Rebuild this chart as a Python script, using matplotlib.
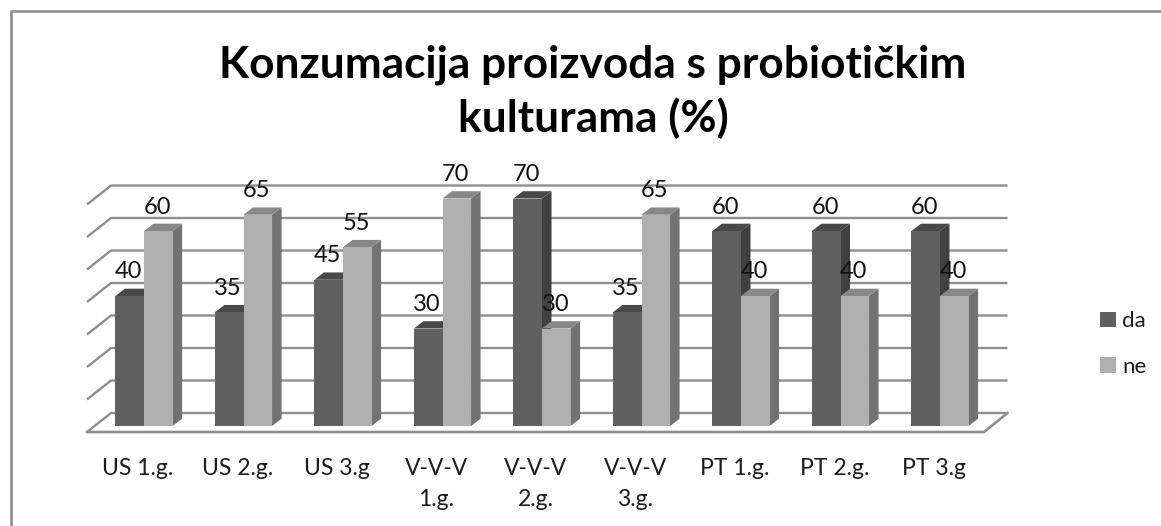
import matplotlib
matplotlib.use("Agg")
import matplotlib.pyplot as plt
from matplotlib.lines import Line2D
from matplotlib.patches import Polygon, Patch
from matplotlib.transforms import ScaledTranslation

categories = ["US 1.g.", "US 2.g.", "US 3.g", "V-V-V\n1.g.", "V-V-V\n2.g.", "V-V-V\n3.g.",
              "PT 1.g.", "PT 2.g.", "PT 3.g"]
da = [40, 35, 45, 30, 70, 35, 60, 60, 60]
ne = [60, 65, 55, 70, 30, 65, 40, 40, 40]
grid_values = [0, 10, 20, 30, 40, 50, 60, 70]
title = "Konzumacija proizvoda s probiotičkim\nkulturama (%)"

W, H = 1161, 526
plt.rcParams["font.family"] = ["Lato", "DejaVu Sans"]
fig = plt.figure(figsize=(W / 100, H / 100), dpi=100, facecolor="white")

PX_X, PX_Y = 99.5, 3.25
x0_px, y0_px = 144.0, 426.0
ax = fig.add_axes([(x0_px - 0.5 * PX_X) / W, (H - y0_px) / H, 9 * PX_X / W, 70 * PX_Y / H])
ax.set_xlim(-0.5, 8.5)
ax.set_ylim(0, 70)
ax.patch.set_visible(False)
for s in ax.spines.values():
    s.set_visible(False)
ax.yaxis.set_visible(False)

def dx(p):
    return p / PX_X

def dy(p):
    return p / PX_Y

GRID = "#8e8e8e"
# back wall gridlines, side stubs and floor
x_back_l = -0.5 + dx(111 - 94.25)
x_back_r = -0.5 + dx(1007.5 - 94.25)
x_front_l = -0.5 + dx(87 - 94.25)
x_front_r = -0.5 + dx(984 - 94.25)
for v in grid_values:
    ax.plot([x_front_l, x_back_l, x_back_r], [v - dy(6), v + dy(13), v + dy(13)],
            color=GRID, lw=1.7, clip_on=False, zorder=1, solid_capstyle="butt")
ax.plot([x_front_l, x_front_r, x_back_r], [-dy(6), -dy(6), dy(13)], color=GRID, lw=1.9,
        clip_on=False, zorder=1)

BW = 0.287
SIDE_X, SIDE_Y = dx(9.5), dy(7.3)
styles = [(da, -BW / 2, "#606060", "#404040", "#484848"),
          (ne, BW / 2, "#b0b0b0", "#727272", "#888888")]
for s, (vals, off, front, side, top) in enumerate(styles):
    xs = [i + off for i in range(len(vals))]
    z = 3 + s
    ax.bar(xs, vals, BW, color=front, zorder=z + 0.2, clip_on=False)
    for x, v in zip(xs, vals):
        l, r = x - BW / 2, x + BW / 2
        ax.add_patch(Polygon([(r, 0), (r + SIDE_X, SIDE_Y), (r + SIDE_X, v + SIDE_Y), (r, v)],
                             fc=side, ec="none", zorder=z, clip_on=False))
        ax.add_patch(Polygon([(l, v), (l + SIDE_X, v + SIDE_Y), (r + SIDE_X, v + SIDE_Y), (r, v)],
                             fc=top, ec="none", zorder=z, clip_on=False))
        ax.text(x - dx(1), v + dy(24), str(v), ha="center", va="center", fontsize=17,
                color="#111111", zorder=6, clip_on=False)

ax.set_xticks(range(len(categories)), categories)
ax.tick_params(axis="x", length=0, pad=23, labelsize=16.5, labelcolor="#1c1c1c")
shift = ScaledTranslation(-6 / 100, 0, fig.dpi_scale_trans)
for lab in ax.get_xticklabels():
    lab.set_transform(lab.get_transform() + shift)
    lab.set_linespacing(1.6)

handles = [Patch(fc="#606060", label="da"), Patch(fc="#b0b0b0", label="ne")]
fig.legend(handles=handles, loc="center left", bbox_to_anchor=(1100 / W, 1 - 344 / H), frameon=False,
           fontsize=16, handlelength=0.72, handleheight=0.72, handletextpad=0.27, labelspacing=1.15,
           borderpad=0, borderaxespad=0, labelcolor="#1c1c1c")

fig.text(593 / W, 1 - 91.5 / H, title, ha="center", va="center", fontsize=31.8, fontweight="bold",
         color="black", linespacing=1.36)

border = "#8a8a8a"
fig.add_artist(Line2D([10.5 / W, 10.5 / W, 1], [0, 1 - 11 / H, 1 - 11 / H], color=border, lw=1.8,
                      solid_joinstyle="miter"))

fig.savefig("out.png", dpi=100)
